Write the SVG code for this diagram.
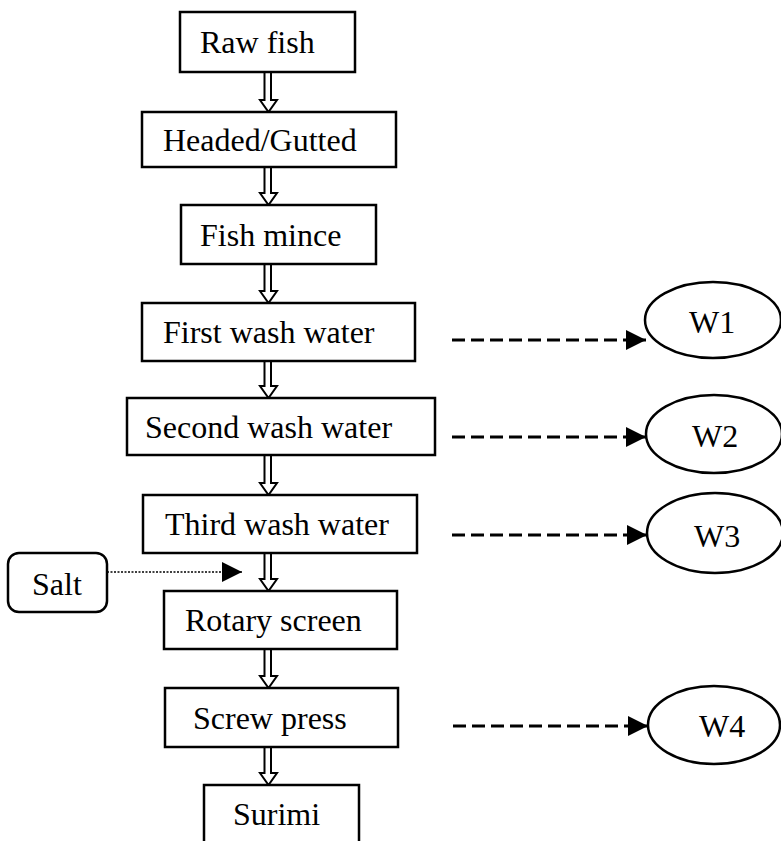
<svg xmlns="http://www.w3.org/2000/svg" width="781" height="841" viewBox="0 0 781 841">
<defs>
<style>
.box{fill:#fff;stroke:#000;stroke-width:2.5}
.t{font-family:"Liberation Serif","Times New Roman",serif;font-size:32px;fill:#000}
.dar{fill:#fff;stroke:#000;stroke-width:2}
.dash{stroke:#000;stroke-width:2.8;stroke-dasharray:13 6;fill:none}
.dot{stroke:#000;stroke-width:1.5;stroke-dasharray:2 1.5;fill:none}
</style>
<marker id="ah" markerWidth="20" markerHeight="20" viewBox="0 0 20 20" refX="20" refY="10" orient="auto" markerUnits="userSpaceOnUse">
<path d="M0,0 L20,10 L0,20 Z" fill="#000"/>
</marker>
</defs>
<rect width="781" height="841" fill="#fff"/>
<g id="connectors">
<path class="dar" d="M264.5,72 V100 H260 L268.5,112 L277,100 H271 V72"/>
<path class="dar" d="M264.5,167 V193 H260 L268.5,205 L277,193 H271 V167"/>
<path class="dar" d="M264.5,264 V291 H260 L268.5,303 L277,291 H271 V264"/>
<path class="dar" d="M264.5,361 V386 H260 L268.5,398 L277,386 H271 V361"/>
<path class="dar" d="M264.5,455 V483 H260 L268.5,495 L277,483 H271 V455"/>
<path class="dar" d="M264.5,553 V579 H260 L268.5,591 L277,579 H271 V553"/>
<path class="dar" d="M264.5,649 V676 H260 L268.5,688 L277,676 H271 V649"/>
<path class="dar" d="M264.5,747 V773 H260 L268.5,785 L277,773 H271 V747"/>
<line class="dash" x1="452" y1="340" x2="646" y2="340" marker-end="url(#ah)"/>
<line class="dash" x1="452" y1="437" x2="646" y2="437" marker-end="url(#ah)"/>
<line class="dash" x1="452" y1="535" x2="647" y2="535" marker-end="url(#ah)"/>
<line class="dash" x1="453" y1="726" x2="648" y2="726" marker-end="url(#ah)"/>
<line class="dot" x1="107" y1="572" x2="242" y2="572" marker-end="url(#ah)"/>
</g>
<g id="raw-fish"><rect class="box" x="180" y="12" width="175" height="60"/><text class="t" x="200" y="53">Raw fish</text></g>
<g id="headed-gutted"><rect class="box" x="142" y="112" width="254" height="55"/><text class="t" x="163" y="151">Headed/Gutted</text></g>
<g id="fish-mince"><rect class="box" x="181" y="205" width="195" height="59"/><text class="t" x="200" y="246">Fish mince</text></g>
<g id="first-wash"><rect class="box" x="142" y="303" width="273" height="58"/><text class="t" x="163" y="343">First wash water</text></g>
<g id="second-wash"><rect class="box" x="127" y="398" width="308" height="57"/><text class="t" x="145" y="438">Second wash water</text></g>
<g id="third-wash"><rect class="box" x="143" y="495" width="274" height="58"/><text class="t" x="165" y="535">Third wash water</text></g>
<g id="rotary-screen"><rect class="box" x="164" y="591" width="233" height="58"/><text class="t" x="185" y="631">Rotary screen</text></g>
<g id="screw-press"><rect class="box" x="165" y="688" width="233" height="59"/><text class="t" x="193" y="729">Screw press</text></g>
<g id="surimi"><rect class="box" x="204" y="785" width="155" height="80"/><text class="t" x="233" y="825">Surimi</text></g>
<g id="salt"><rect class="box" x="8" y="553" width="99" height="59" rx="11"/><text class="t" x="32" y="595">Salt</text></g>
<g id="w1"><ellipse class="box" cx="713" cy="320" rx="68" ry="38"/><text class="t" x="689" y="333">W1</text></g>
<g id="w2"><ellipse class="box" cx="714" cy="434" rx="68" ry="39"/><text class="t" x="692" y="447">W2</text></g>
<g id="w3"><ellipse class="box" cx="715" cy="533" rx="68" ry="40"/><text class="t" x="694" y="547">W3</text></g>
<g id="w4"><ellipse class="box" cx="714" cy="725" rx="66" ry="39"/><text class="t" x="699" y="737">W4</text></g>
</svg>
